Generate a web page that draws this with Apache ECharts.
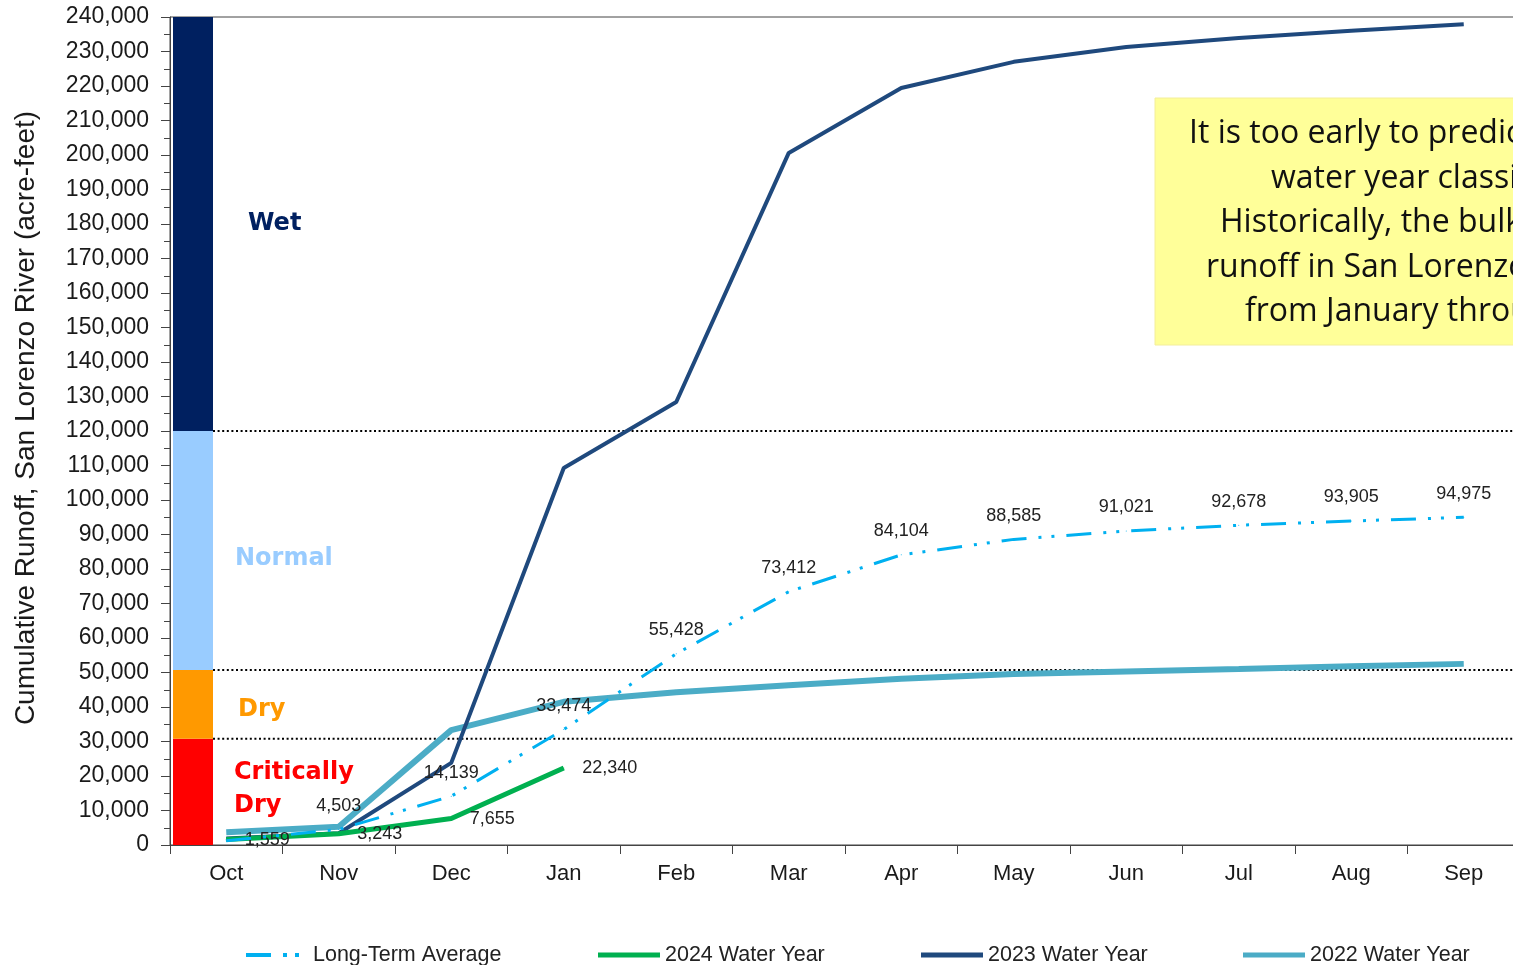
<!DOCTYPE html>
<html>
<head>
<meta charset="utf-8">
<script src="https://cdn.jsdelivr.net/npm/echarts@6/dist/echarts.min.js"></script>
<style>
  html, body { margin: 0; padding: 0; background: #fff; }
  #chart { width: 1513px; height: 965px; }
</style>
</head>
<body>
<div id="chart"></div>
<script>
// Water-year months (October to September)
const months = ['Oct', 'Nov', 'Dec', 'Jan', 'Feb', 'Mar', 'Apr', 'May', 'Jun', 'Jul', 'Aug', 'Sep'];

// Cumulative runoff, acre-feet
const longTermAverage = [1200, 4503, 14139, 33474, 55428, 73412, 84104, 88585, 91021, 92678, 93905, 94975];
const wy2024 = [1559, 3243, 7655, 22340];
const wy2023 = [1900, 3400, 23800, 109300, 128400, 200600, 219400, 227000, 231300, 233900, 236000, 237900];
const wy2022 = [3700, 5300, 33300, 41500, 44300, 46300, 48200, 49600, 50300, 51000, 51800, 52500];

// Water-year classification bands (lower/upper bounds, acre-feet)
const zoneBounds = [0, 30800, 50700, 120000, 240000];
const zoneNames = ['Critically\nDry', 'Dry', 'Normal', 'Wet'];

// Y-axis range
const yMin = 0;
const yMax = 240000;
const yStep = 10000;

const seriesNames = ['Long-Term Average', '2024 Water Year', '2023 Water Year', '2022 Water Year'];

const noteLines = [
  'It is too early to predict the',
  'water year classification.',
  'Historically, the bulk of the',
  'runoff in San Lorenzo River occurs',
  'from January through April.'
];

// ---- styling ----
const FONT = '"Liberation Sans", Arial, sans-serif';
const zoneColors = ['#FF0000', '#FF9900', '#99CCFF', '#002060'];
const zoneLabelDx = [21, 25, 22, 35];
const zoneLabelDy = [-3, 5, 8, 0];
const noteLineX = [1189, 1271, 1220, 1206, 1245];
const noteTop = 134;
const noteStep = 44.5;
const legendLeft = [241, 593, 916, 1238];

// Legend swatches: dash-dot-dot for the average, solid bars for the water years
const ICON_DASHDOT = 'path://M0,0h25v4H0z M37,0h4v4h-4z M49,0h4v4h-4z M61.9,0h0.1v0.05h-0.1z';
const ICON_SOLID = 'path://M0,0h62v5H0z';
const legendIcons = [ICON_DASHDOT, ICON_SOLID, ICON_SOLID, ICON_SOLID];

const zoneData = zoneNames.map((n, i) => [0, zoneBounds[i], zoneBounds[i + 1]]);

const chart = echarts.init(document.getElementById('chart'), null, { renderer: 'canvas' });

const labelFont = { fontFamily: FONT, fontSize: 18, color: '#222' };
const fmt = p => Number(p.value).toLocaleString('en-US');

const option = {
  animation: false,
  backgroundColor: '#fff',
  textStyle: { fontFamily: FONT },
  grid: {
    left: 170, top: 17, width: 1350, height: 828,
    outerBoundsMode: 'none',
    containLabel: false,
    show: true, borderColor: '#444', borderWidth: 1, backgroundColor: 'transparent'
  },
  legend: seriesNames.map((name, i) => ({
    data: [{ name: name, icon: legendIcons[i] }],
    left: legendLeft[i], top: 939,
    itemWidth: 62, itemHeight: 5, itemGap: 0,
    textStyle: { fontSize: 21.5, color: '#222', fontFamily: FONT }
  })),
  xAxis: {
    type: 'category',
    data: months,
    boundaryGap: true,
    axisLine: { lineStyle: { color: '#444', width: 1 } },
    axisTick: { show: true, length: 9, lineStyle: { color: '#444' } },
    axisLabel: { fontSize: 22, color: '#1a1a1a', margin: 18 },
    splitLine: { show: false }
  },
  yAxis: {
    type: 'value',
    min: yMin, max: yMax, interval: yStep,
    name: 'Cumulative Runoff, San Lorenzo River (acre-feet)',
    nameLocation: 'middle', nameRotate: 90, nameGap: 130,
    nameTextStyle: { fontSize: 28, color: '#1a1a1a', padding: [0, 0, 0, 26] },
    axisLine: { show: true, lineStyle: { color: '#444', width: 1 } },
    axisTick: { show: true, length: 9, lineStyle: { color: '#444' } },
    minorTick: { show: true, splitNumber: 2, length: 6, lineStyle: { color: '#444' } },
    axisLabel: {
      fontSize: 23, color: '#1a1a1a', margin: 21,
      formatter: v => v.toLocaleString('en-US')
    },
    splitLine: { show: false }
  },
  series: [
    {
      type: 'custom',
      z: 1,
      silent: true,
      data: zoneData,
      encode: { x: 0, y: [1, 2] },
      renderItem: function (params, api) {
        const i = params.dataIndex;
        const lo = api.value(1), hi = api.value(2);
        const band = api.size([1, 0])[0];
        const pLo = api.coord([api.value(0), lo]);
        const pHi = api.coord([api.value(0), hi]);
        const x0 = pLo[0] - band / 2 + 3;
        const w = 40;
        const children = [{
          type: 'rect',
          shape: { x: x0, y: pHi[1], width: w, height: pLo[1] - pHi[1] },
          style: { fill: zoneColors[i] }
        }];
        if (hi < yMax) {
          children.push({
            type: 'line',
            shape: { x1: x0 + w, y1: pHi[1], x2: params.coordSys.x + params.coordSys.width, y2: pHi[1] },
            style: { stroke: '#000', lineWidth: 2, lineDash: [2, 2.6] }
          });
        }
        children.push({
          type: 'text',
          x: x0 + w + zoneLabelDx[i],
          y: (pLo[1] + pHi[1]) / 2 + zoneLabelDy[i],
          style: {
            text: zoneNames[i], fill: zoneColors[i],
            fontSize: 24, fontWeight: 'bold', fontFamily: '"DejaVu Sans", Verdana, sans-serif',
            align: 'left', verticalAlign: 'middle', lineHeight: 33
          }
        });
        return { type: 'group', children: children };
      }
    },
    {
      name: seriesNames[0],
      type: 'line',
      z: 6,
      data: longTermAverage.map((v, i) => i === 0 ? { value: v, label: { show: false } } : v),
      symbol: 'circle', symbolSize: 1, showSymbol: true,
      lineStyle: { color: '#00B0F0', width: 3, type: [25, 12, 3, 10, 3, 12] },
      itemStyle: { color: '#00B0F0' },
      label: Object.assign({ show: true, position: 'top', distance: 14, formatter: fmt }, labelFont)
    },
    {
      name: seriesNames[1],
      type: 'line',
      z: 5,
      data: wy2024,
      symbol: 'circle', symbolSize: 1, showSymbol: true,
      lineStyle: { color: '#00B050', width: 5 },
      itemStyle: { color: '#00B050' },
      label: Object.assign({ show: true, position: 'right', distance: 18, formatter: fmt }, labelFont)
    },
    {
      name: seriesNames[2],
      type: 'line',
      z: 4,
      data: wy2023,
      symbol: 'none',
      lineStyle: { color: '#1F497D', width: 4 },
      itemStyle: { color: '#1F497D' }
    },
    {
      name: seriesNames[3],
      type: 'line',
      z: 3,
      data: wy2022,
      symbol: 'none',
      lineStyle: { color: '#4BACC6', width: 6 },
      itemStyle: { color: '#4BACC6' }
    }
  ],
  graphic: [
    {
      type: 'group',
      z: 100,
      children: [
        {
          type: 'rect',
          shape: { x: 1155, y: 98, width: 420, height: 247 },
          style: { fill: '#FFFF99', stroke: '#F3EE9A', lineWidth: 1 }
        }
      ].concat(noteLines.map((t, i) => ({
        type: 'text',
        x: noteLineX[i],
        y: noteTop + i * noteStep,
        style: {
          text: t, fill: '#111',
          fontSize: 32, fontFamily: '"Open Sans", Lato, sans-serif',
          align: 'left', verticalAlign: 'middle'
        }
      })))
    }
  ]
};

chart.setOption(option);
</script>
</body>
</html>
